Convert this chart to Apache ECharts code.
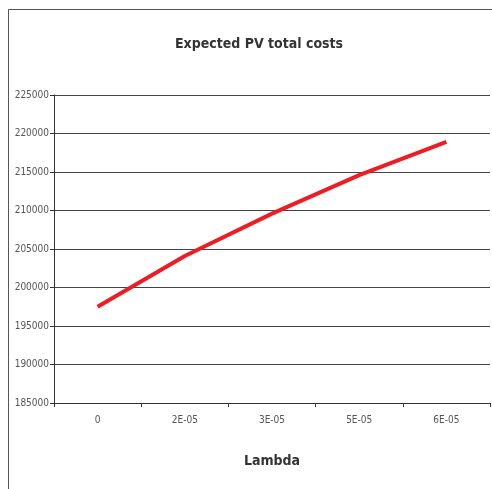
<!DOCTYPE html>
<html>
<head>
<meta charset="utf-8">
<script src="https://cdn.jsdelivr.net/npm/echarts@6/dist/echarts.min.js"></script>
<style>
  html, body { margin: 0; padding: 0; background: #fff; }
  #chart { width: 492px; height: 489px; }
</style>
</head>
<body>
<div id="chart"></div>
<script>
  const lambdas = ['0', '2E-05', '3E-05', '5E-05', '6E-05']
  const totalCosts = [197500, 204100, 209600, 214600, 218900]

  const font = '"Liberation Sans Narrow", "DejaVu Sans Condensed", "Liberation Sans", sans-serif'

  const chart = echarts.init(document.getElementById('chart'))
  chart.setOption({
    animation: false,
    title: {
      text: 'Expected PV total costs',
      left: 254,
      textAlign: 'center',
      top: 32,
      textStyle: { fontFamily: font, fontSize: 14, fontWeight: 'bold', color: '#333' }
    },
    graphic: [{
      type: 'rect',
      shape: { x: 8.5, y: 9.5, width: 600, height: 600 },
      style: { fill: 'none', stroke: '#555', lineWidth: 1 }
    }],
    grid: { left: 54, top: 95, right: 2, bottom: 86 },
    xAxis: {
      type: 'category',
      data: lambdas,
      boundaryGap: true,
      name: 'Lambda',
      nameLocation: 'middle',
      nameGap: 51,
      nameTextStyle: { fontFamily: font, fontSize: 14, fontWeight: 'bold', color: '#333' },
      axisLine: { lineStyle: { color: '#333' } },
      axisTick: { show: true, length: 4, lineStyle: { color: '#333' } },
      axisLabel: { fontFamily: font, fontSize: 10, color: '#555', margin: 12 }
    },
    yAxis: {
      type: 'value',
      min: 185000,
      max: 225000,
      interval: 5000,
      axisLine: { show: true, lineStyle: { color: '#333' } },
      axisTick: { show: true, length: 4, lineStyle: { color: '#333' } },
      axisLabel: { fontFamily: font, fontSize: 10, color: '#555', margin: 5, formatter: v => String(v) },
      splitLine: { lineStyle: { color: '#444', width: 1 } }
    },
    series: [{
      type: 'line',
      data: totalCosts,
      symbol: 'none',
      lineStyle: { color: '#ee1c25', width: 4 }
    }]
  })
</script>
</body>
</html>
